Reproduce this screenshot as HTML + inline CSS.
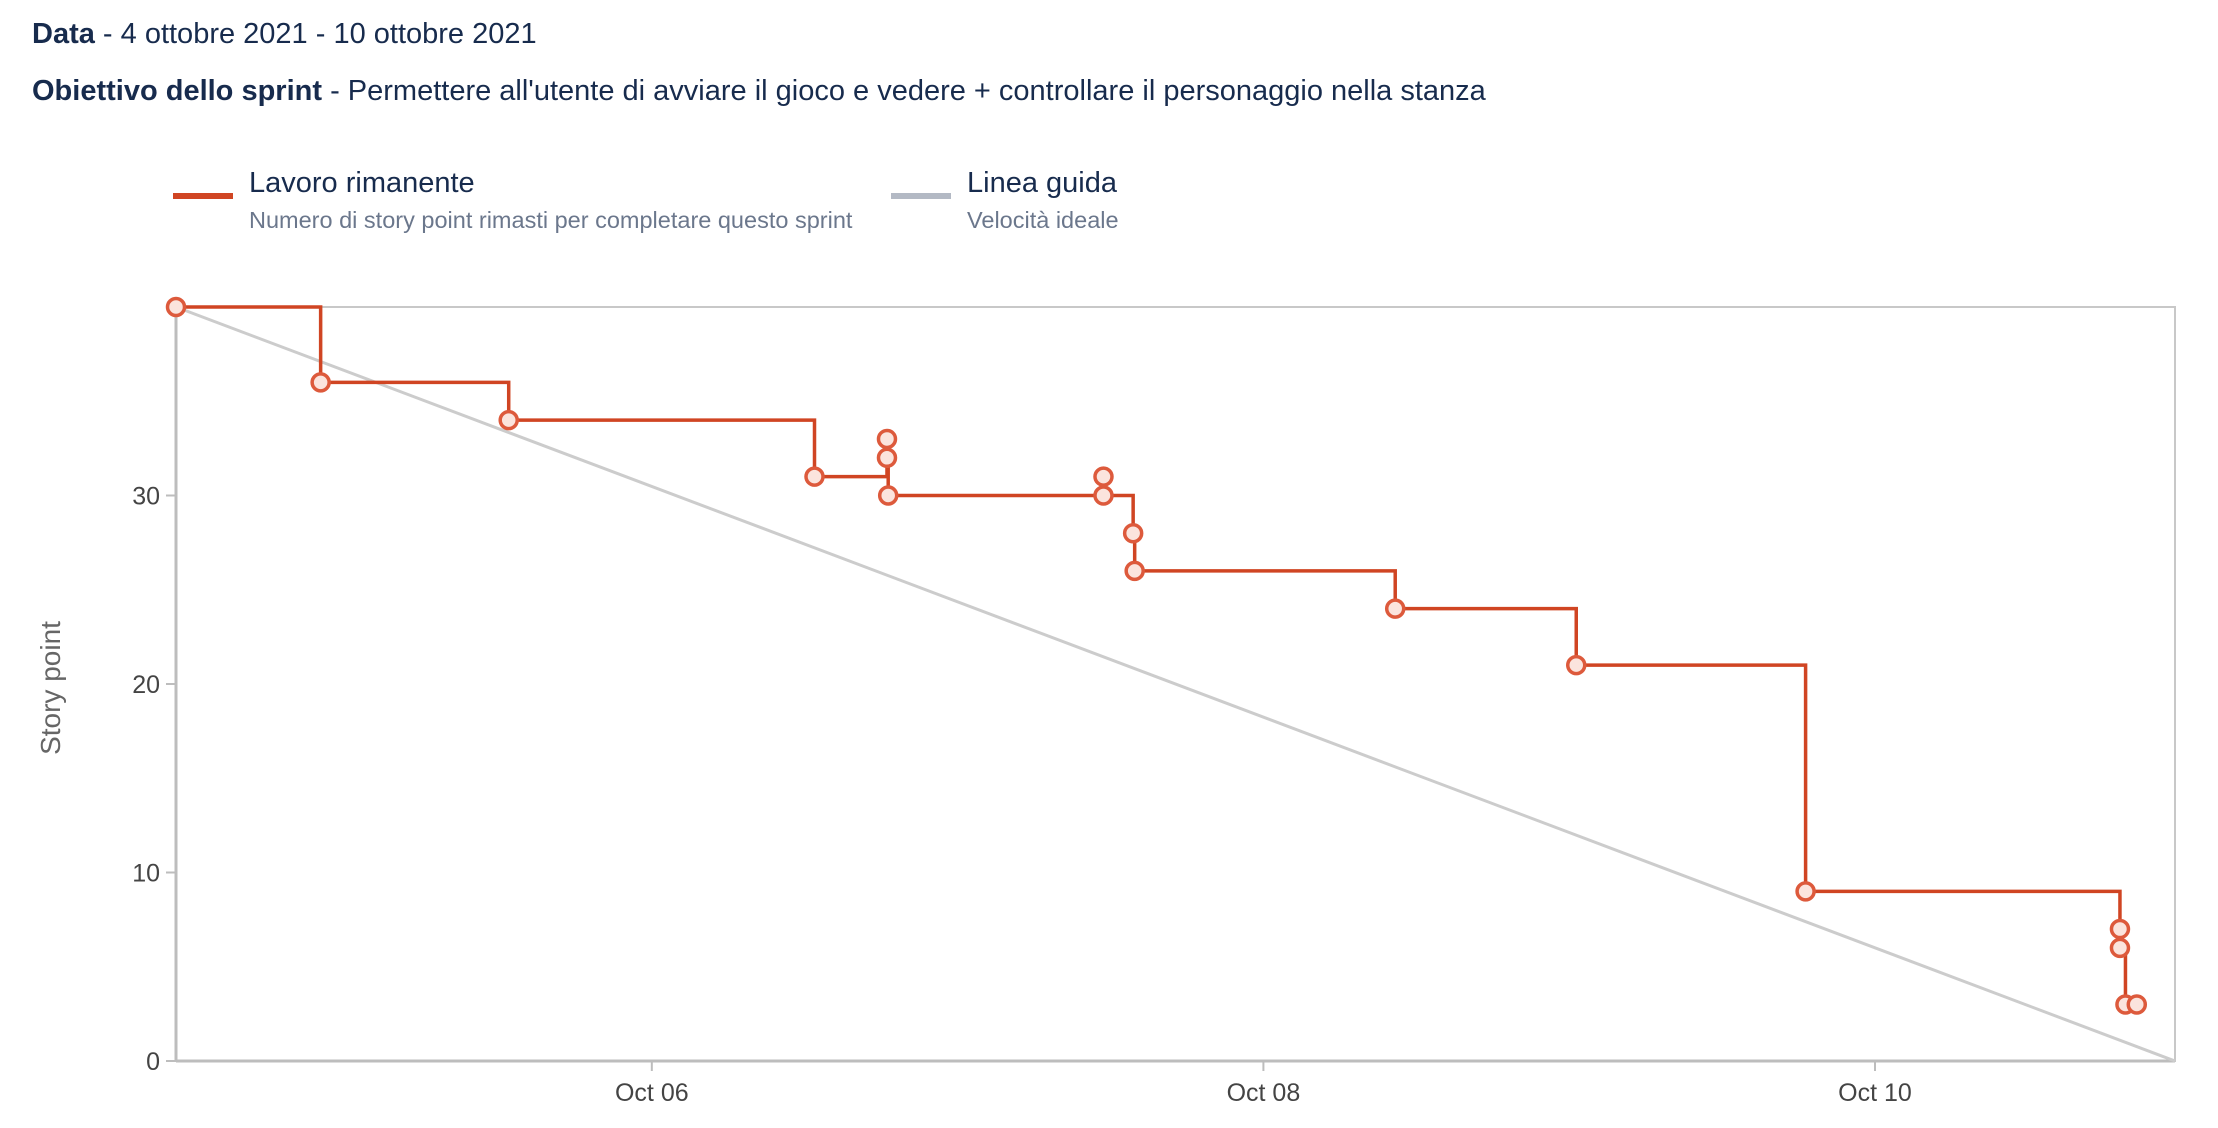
<!DOCTYPE html>
<html><head><meta charset="utf-8"><style>
body{margin:0;width:2218px;height:1128px;background:#fff;font-family:"Liberation Sans",sans-serif;overflow:hidden;position:relative}
.t{position:absolute;color:#172b4d;white-space:nowrap}
</style></head><body>
<div class="t" style="left:32px;top:18px;font-size:29px"><b>Data</b> - 4 ottobre 2021 - 10 ottobre 2021</div>
<div class="t" style="left:32px;top:75px;font-size:29px"><b>Obiettivo dello sprint</b> - Permettere all'utente di avviare il gioco e vedere + controllare il personaggio nella stanza</div>
<div>
<div style="position:absolute;left:173px;top:193px;width:60px;height:6px;background:#d04523"></div>
<div class="t" style="left:249px;top:167px;font-size:29px">Lavoro rimanente</div>
<div class="t" style="left:249px;top:207px;font-size:23.5px;color:#6b778c">Numero di story point rimasti per completare questo sprint</div>
</div>
<div>
<div style="position:absolute;left:891px;top:193px;width:60px;height:6px;background:#b3b9c4"></div>
<div class="t" style="left:967px;top:167px;font-size:29px">Linea guida</div>
<div class="t" style="left:967px;top:207px;font-size:23.5px;color:#6b778c">Velocità ideale</div>
</div>
<svg id="c" width="2218" height="1128" style="position:absolute;left:0;top:0"></svg>
<script>
const days=[0.444,0.917,1.532,2.532,2.769,2.769,2.773,3.477,3.477,3.574,3.579,4.431,5.023,5.773,6.801,6.801,6.819,6.856];
const values=[40,36,34,31,33,32,30,31,30,28,26,24,21,9,7,6,3,3];
const yTicks=[0,10,20,30];
const xTickDays=[2,4,6];
const xTickLabels=["Oct 06","Oct 08","Oct 10"];
const domainX=[0.444,6.981], domainY=[0,40];
const L=176,R=2175,T=307,B=1061;
const X=d=>L+(d-domainX[0])/(domainX[1]-domainX[0])*(R-L);
const Y=v=>B-(v-domainY[0])/(domainY[1]-domainY[0])*(B-T);
const svg=document.getElementById('c');const NS='http://www.w3.org/2000/svg';
function mk(tag,at,txt){const e=document.createElementNS(NS,tag);for(const k in at)e.setAttribute(k,at[k]);if(txt!=null)e.textContent=txt;svg.appendChild(e);return e;}
let e;
e=mk('rect',{x:L,y:T,width:R-L,height:B-T,fill:'none',stroke:'#c8c8c8','stroke-width':2});


e=mk('line',{x1:L,y1:B,x2:R,y2:B,stroke:'#bdbdbd','stroke-width':3});


e=mk('line',{x1:L,y1:T,x2:L,y2:B,stroke:'#bdbdbd','stroke-width':3});


yTicks.forEach(v=>{
 e=mk('line',{x1:L-10,y1:Y(v),x2:L,y2:Y(v),stroke:'#bdbdbd','stroke-width':2});
 
 
 e=mk('text',{x:L-16,y:Y(v)+9,'text-anchor':'end','font-size':25,fill:'#444','font-family':'Liberation Sans'},v);
 
 
});
xTickDays.forEach((d,i)=>{
 e=mk('line',{x1:X(d),y1:B,x2:X(d),y2:B+10,stroke:'#bdbdbd','stroke-width':2});
 
 
 e=mk('text',{x:X(d),y:B+40,'text-anchor':'middle','font-size':25,fill:'#444','font-family':'Liberation Sans'},xTickLabels[i]);
 
 
});
e=mk('text',{x:0,y:0,transform:`translate(60,688) rotate(-90)`,'text-anchor':'middle','font-size':28,fill:'#666','font-family':'Liberation Sans'},'Story point');


e=mk('line',{x1:X(domainX[0]),y1:Y(values[0]),x2:X(domainX[1]),y2:Y(0),stroke:'#cccccc','stroke-width':3});


let d='M'+X(days[0])+' '+Y(values[0]);
for(let i=1;i<days.length;i++){d+=' H'+X(days[i])+' V'+Y(values[i]);}
e=mk('path',{d:d,fill:'none',stroke:'#d04523','stroke-width':3.5});


days.forEach((dd,i)=>{
 e=mk('circle',{cx:X(dd),cy:Y(values[i]),r:8.5,fill:'#fbe4dd',stroke:'#dd5a3c','stroke-width':3.5});
 
 
});
</script>
</body></html>
